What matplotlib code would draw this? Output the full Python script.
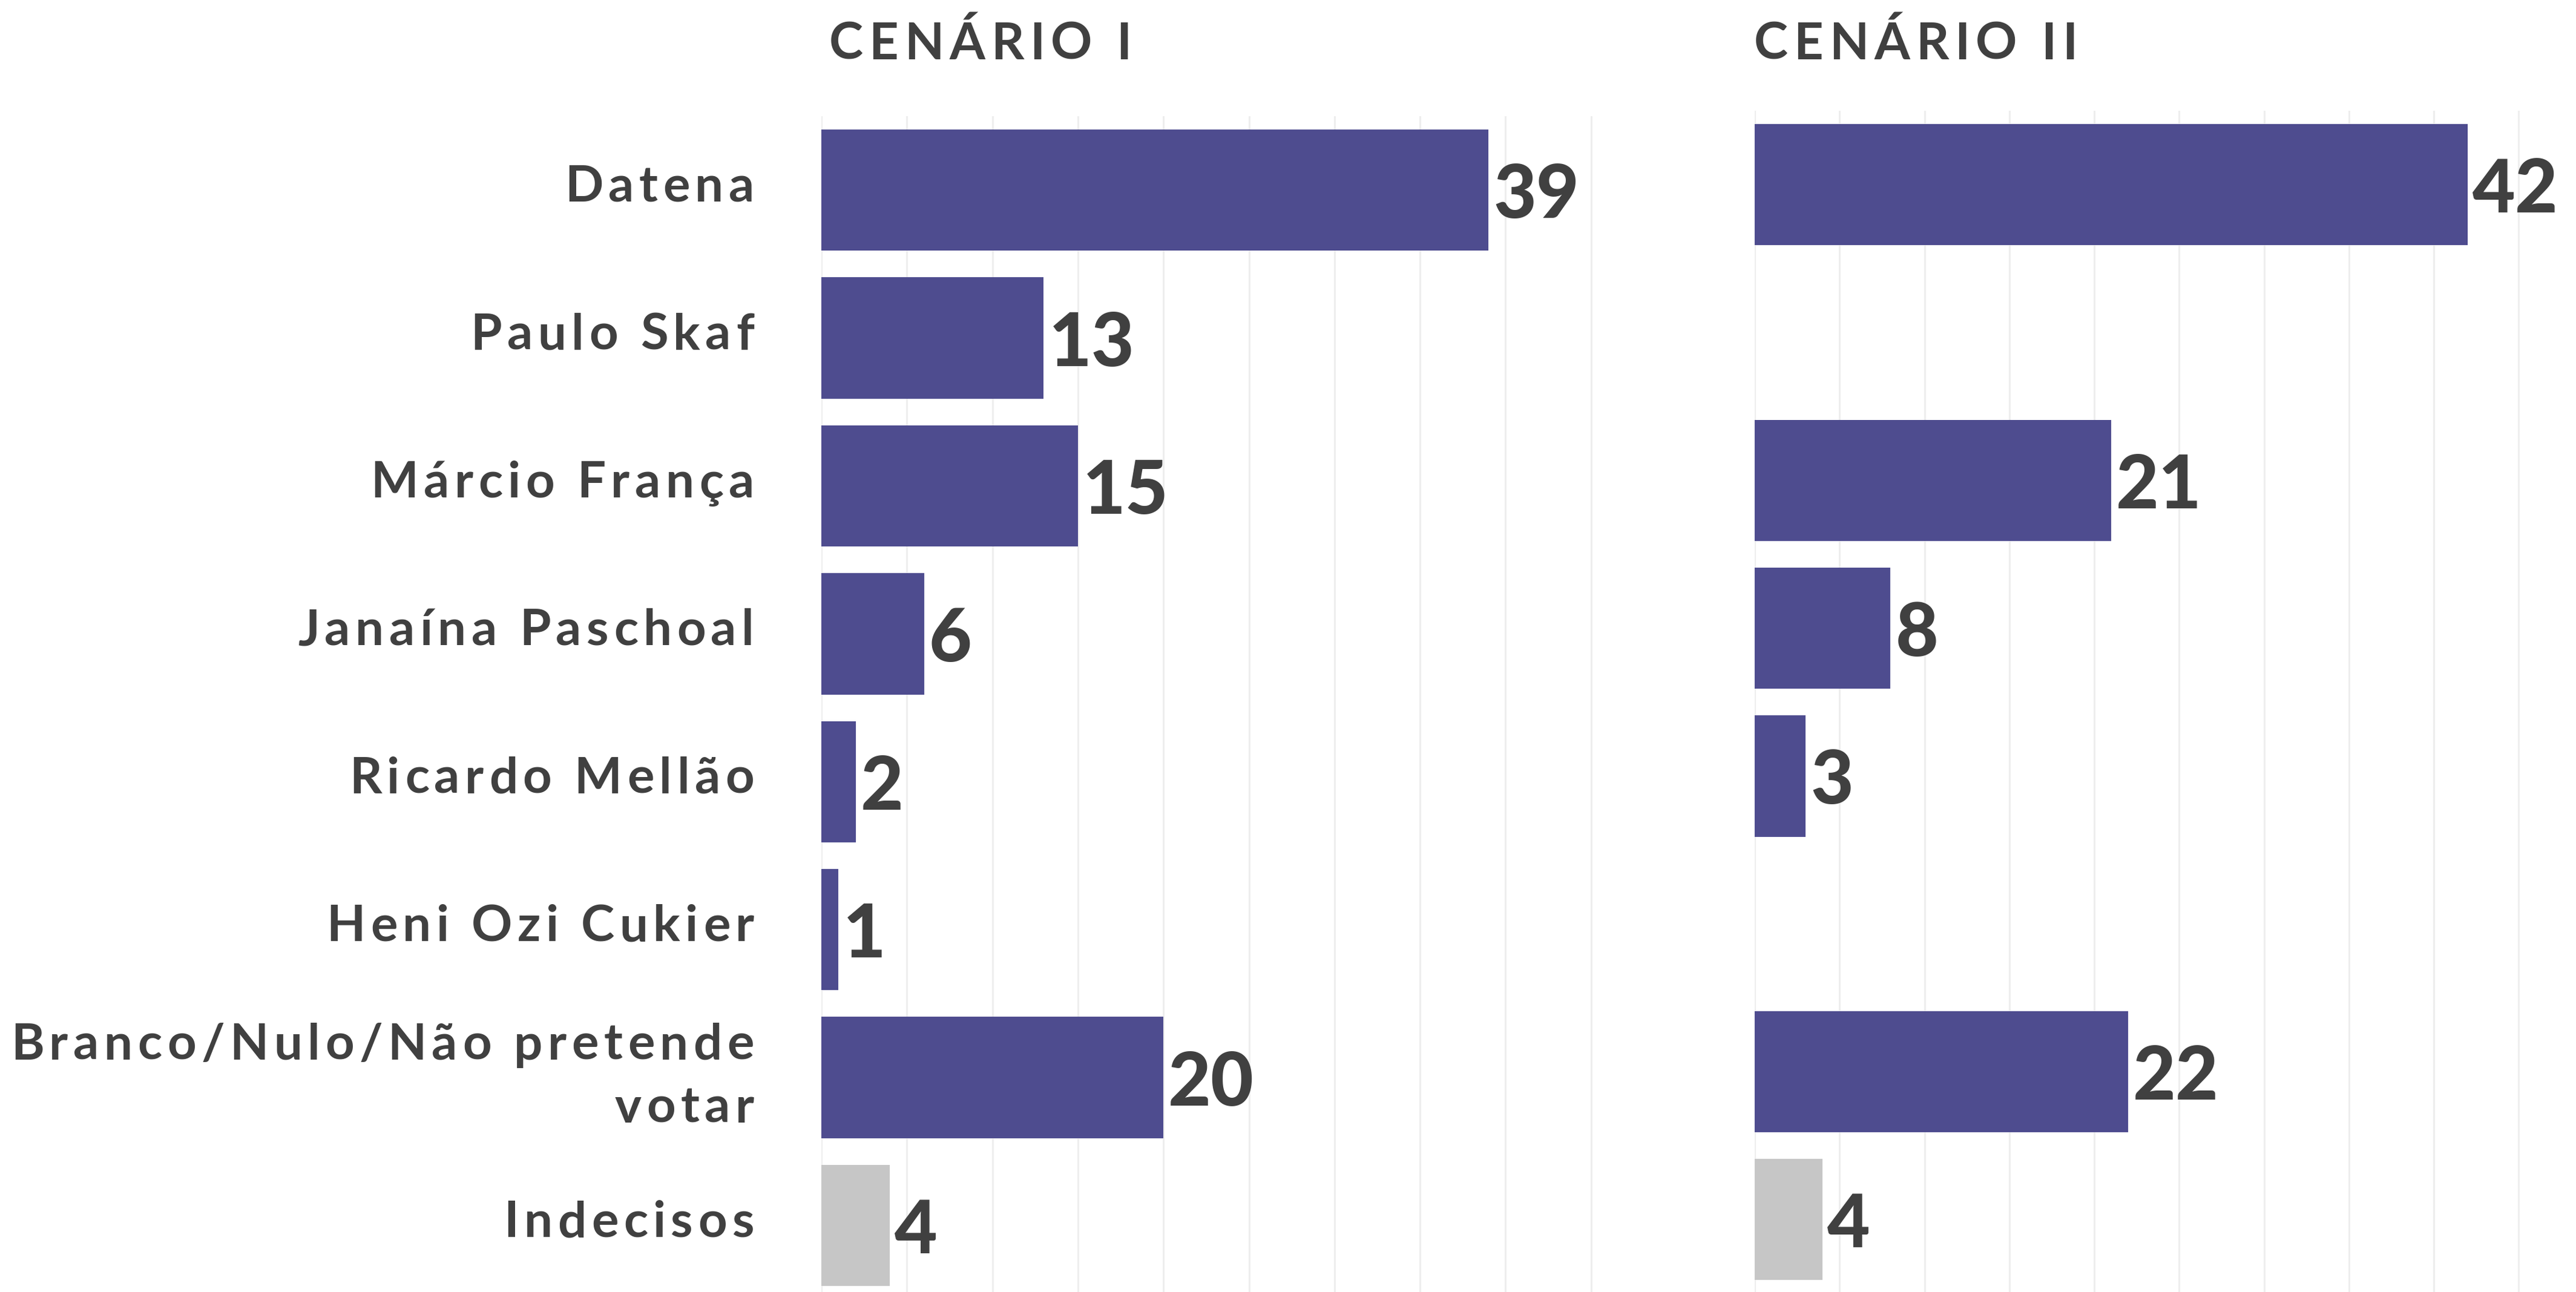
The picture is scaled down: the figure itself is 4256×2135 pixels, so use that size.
import matplotlib.pyplot as plt
import numpy as np
from matplotlib.transforms import IdentityTransform

categories = ["Datena", "Paulo Skaf", "Márcio França", "Janaína Paschoal",
              "Ricardo Mellão", "Heni Ozi Cukier",
              "Branco/Nulo/Não pretende\nvotar", "Indecisos"]
cenario1 = [39, 13, 15, 6, 2, 1, 20, 4]
cenario2 = [42, np.nan, 21, 8, 3, np.nan, 22, 4]
titles = ["CENÁRIO I", "CENÁRIO II"]

purple = "#4e4c8f"
grey = "#c6c6c6"
text_col = "#404040"
colors = [purple] * 7 + [grey]

plt.rcParams['font.family'] = ['Lato', 'DejaVu Sans']

W, H = 4256, 2135
fig = plt.figure(figsize=(W / 100, H / 100), dpi=100)
renderer = fig.canvas.get_renderer()
ident = IdentityTransform()


def ink_width(s, **kw):
    t = fig.text(0, 0, s, transform=ident, **kw)
    w = t.get_window_extent(renderer).width
    t.remove()
    return w


def tracked_text(x, y, s, track, ha="left", **kw):
    # draws s letter by letter with extra spacing, x/y in pixels, baseline at y
    total = ink_width(s, **kw) + (len(s) - 1) * track
    x0 = x - total if ha == "right" else x
    for i, ch in enumerate(s):
        if ch == " ":
            continue
        xi = x0 + ink_width(s[:i + 1], **kw) - ink_width(ch, **kw) + i * track
        fig.text(xi, y, ch, transform=ident, ha="left", va="baseline", **kw)


left_ax = fig.add_axes([1357 / W, 0, 46 * 28.26 / W, 1 - 192 / H])
right_ax = fig.add_axes([2899 / W, 0, 1 - 2899 / W, 1 - 183 / H])

y = np.arange(len(categories))

for ax, vals, xmax, ybot in [(left_ax, cenario1, 46, 7.45),
                             (right_ax, cenario2, (W - 2899) / 28.05, 7.49)]:
    vals = np.array(vals, dtype=float)
    ok = ~np.isnan(vals)
    ax.barh(y[ok], vals[ok], height=0.82, color=np.array(colors)[ok], zorder=2)
    ax.set_xticks(np.arange(0, 55, 5))
    ax.set_yticks(y)
    ax.set_xlim(0, xmax)
    ax.set_ylim(ybot, -0.5)
    ax.grid(axis="x", color="#eeeeee", linewidth=2.2, zorder=0)
    ax.axvline(0, color="#d6d6d6", linewidth=2.2, zorder=1)
    ax.tick_params(length=0, labelbottom=False, labelleft=False)
    for s in ax.spines.values():
        s.set_visible(False)
    for yi, v in zip(y[ok], vals[ok]):
        px, py = ax.transData.transform((v, yi))
        fig.text(px + 8, py - 46, f"{int(v)}", transform=ident, ha="left",
                 va="baseline", fontsize=88, fontweight="black", color=text_col)

# category labels, right aligned left of the first panel
label_kw = dict(fontsize=60, fontweight="bold", color=text_col)
for yi, cat in zip(y, categories):
    _, py = left_ax.transData.transform((0, yi))
    lines = cat.split("\n")
    if len(lines) == 1:
        tracked_text(1246, py - 19, cat, 8.5, ha="right", **label_kw)
    else:
        tracked_text(1246, py + 30, lines[0], 8.5, ha="right", **label_kw)
        tracked_text(1246, py - 74, lines[1], 8.5, ha="right", **label_kw)

title_kw = dict(fontsize=61, fontweight="bold", color=text_col)
tracked_text(1370, H - 98, titles[0], 9.5, **title_kw)
tracked_text(2898, H - 98, titles[1], 9.5, **title_kw)

fig.savefig("out.png", dpi=100, facecolor="white")
